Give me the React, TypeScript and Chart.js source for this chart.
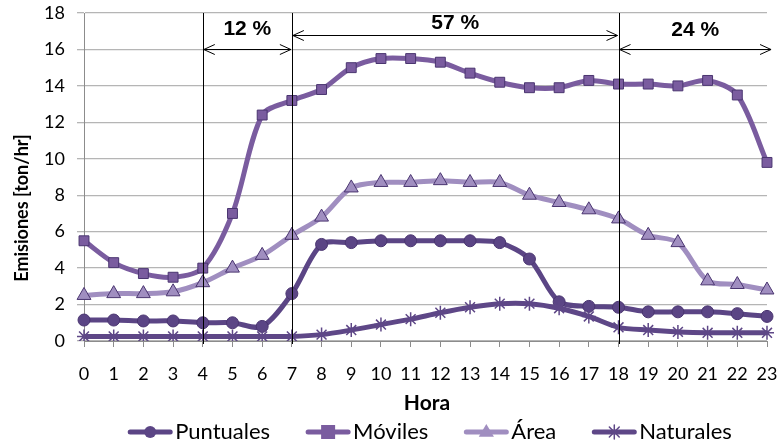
import React, { useEffect, useRef } from "react";
import { Chart, registerables } from "chart.js";

Chart.register(...registerables);

const hours = ["0","1","2","3","4","5","6","7","8","9","10","11","12","13","14","15","16","17","18","19","20","21","22","23"];
const puntuales = [1.15, 1.15, 1.1, 1.1, 1.0, 1.0, 0.8, 2.6, 5.3, 5.4, 5.5, 5.5, 5.5, 5.5, 5.4, 4.5, 2.15, 1.9, 1.85, 1.6, 1.6, 1.6, 1.5, 1.35];
const moviles = [5.5, 4.3, 3.7, 3.5, 4.0, 7.0, 12.4, 13.2, 13.8, 15.0, 15.5, 15.5, 15.3, 14.7, 14.2, 13.9, 13.9, 14.3, 14.1, 14.1, 14.0, 14.3, 13.5, 9.8];
const area = [2.5, 2.6, 2.6, 2.7, 3.2, 4.0, 4.7, 5.8, 6.8, 8.4, 8.7, 8.7, 8.8, 8.7, 8.7, 8.0, 7.6, 7.2, 6.7, 5.8, 5.4, 3.3, 3.1, 2.8];
const naturales = [0.25, 0.25, 0.25, 0.25, 0.25, 0.25, 0.25, 0.25, 0.35, 0.6, 0.9, 1.2, 1.55, 1.85, 2.05, 2.05, 1.8, 1.35, 0.75, 0.6, 0.5, 0.45, 0.45, 0.45];
const yTicks = [0, 2, 4, 6, 8, 10, 12, 14, 16, 18];

const seriesNames = ["Puntuales", "Móviles", "Área", "Naturales"];
const seriesColors = ["#5b4585", "#7a5c9f", "#a08ec0", "#5e4787"];
const seriesMarkers = ["circle", "rect", "triangle", "star"];
const markerRadius = [6, 7, 8, 7];

const periodBounds = [4, 7, 18];
const periodLabels = ["12 %", "57 %", "24 %"];
const periodFrom = [4, 7, 18];
const periodTo = [7, 18, 23.17];
const periodArrowY = [16, 16.8, 16];
const periodLabelY = [17.1, 17.45, 17.05];

const LEGEND_FONT = "22px Lato";

function drawMarker(ctx: CanvasRenderingContext2D, kind: string, x: number, y: number, r: number, color: string) {
  ctx.save();
  ctx.fillStyle = color;
  ctx.strokeStyle = color;
  ctx.beginPath();
  if (kind === "circle") {
    ctx.arc(x, y, r, 0, Math.PI * 2);
    ctx.fill();
  } else if (kind === "rect") {
    ctx.fillRect(x - r, y - r, r * 2, r * 2);
  } else if (kind === "triangle") {
    ctx.moveTo(x, y - r);
    ctx.lineTo(x + r * 0.95, y + r * 0.6);
    ctx.lineTo(x - r * 0.95, y + r * 0.6);
    ctx.closePath();
    ctx.fill();
  } else {
    ctx.lineWidth = 1.5;
    for (let i = 0; i < 4; i++) {
      const a = (i * Math.PI) / 4;
      ctx.moveTo(x - Math.cos(a) * r, y - Math.sin(a) * r);
      ctx.lineTo(x + Math.cos(a) * r, y + Math.sin(a) * r);
    }
    ctx.stroke();
  }
  ctx.restore();
}

const overlayPlugin = {
  id: "overlay",
  afterDatasetsDraw(chart: any) {
    const ctx: CanvasRenderingContext2D = chart.ctx;
    const xs = chart.scales.x;
    const ys = chart.scales.y;
    const area = chart.chartArea;
    const xPix = (v: number) => xs.getPixelForValue(0) + (xs.getPixelForValue(1) - xs.getPixelForValue(0)) * v;
    ctx.save();
    ctx.strokeStyle = "#000";
    ctx.lineWidth = 1;
    periodBounds.forEach((b) => {
      const px = Math.round(xPix(b)) + 0.5;
      ctx.beginPath();
      ctx.moveTo(px, area.top);
      ctx.lineTo(px, area.bottom + 3);
      ctx.stroke();
    });
    periodLabels.forEach((lab, i) => {
      const x1 = xPix(periodFrom[i]) + 1;
      const x2 = xPix(periodTo[i]) - 1;
      const y = Math.round(ys.getPixelForValue(periodArrowY[i])) + 0.5;
      ctx.beginPath();
      ctx.moveTo(x1, y);
      ctx.lineTo(x2, y);
      ctx.moveTo(x1 + 11, y - 5);
      ctx.lineTo(x1, y);
      ctx.lineTo(x1 + 11, y + 5);
      ctx.moveTo(x2 - 11, y - 5);
      ctx.lineTo(x2, y);
      ctx.lineTo(x2 - 11, y + 5);
      ctx.stroke();
      ctx.fillStyle = "#000";
      ctx.font = "bold 21px 'Liberation Sans'";
      ctx.textAlign = "center";
      ctx.textBaseline = "middle";
      ctx.fillText(lab, (x1 + x2) / 2, ys.getPixelForValue(periodLabelY[i]));
    });
    ctx.restore();
  },
  afterDraw(chart: any) {
    const ctx: CanvasRenderingContext2D = chart.ctx;
    ctx.save();
    ctx.fillStyle = "#000";
    ctx.font = "bold 21px Lato";
    ctx.textAlign = "center";
    ctx.textBaseline = "middle";
    ctx.fillText("Hora", 427, 403);
    ctx.font = "bold 18px Lato";
    ctx.translate(22, 208);
    ctx.rotate(-Math.PI / 2);
    ctx.fillText("Emisiones [ton/hr]", 0, 0);
    ctx.restore();

    // legend
    ctx.save();
    ctx.font = LEGEND_FONT;
    const lineLen = 44;
    const gapText = 3;
    const gapItem = 36;
    const widths = seriesNames.map((n) => ctx.measureText(n).width);
    const total = widths.reduce((a, w) => a + lineLen + gapText + w, 0) + gapItem * (seriesNames.length - 1);
    let x = 430 - total / 2;
    const y = 432;
    seriesNames.forEach((n, i) => {
      ctx.strokeStyle = seriesColors[i];
      ctx.lineWidth = 5;
      ctx.lineCap = "round";
      ctx.beginPath();
      ctx.moveTo(x + 2, y);
      ctx.lineTo(x + lineLen - 2, y);
      ctx.stroke();
      drawMarker(ctx, seriesMarkers[i], x + lineLen / 2, y, markerRadius[i], seriesColors[i]);
      ctx.fillStyle = "#000";
      ctx.textAlign = "left";
      ctx.textBaseline = "middle";
      ctx.fillText(n, x + lineLen + gapText, y);
      x += lineLen + gapText + widths[i] + gapItem;
    });
    ctx.restore();
  },
};

export default function App() {
  const ref = useRef<HTMLCanvasElement>(null);
  useEffect(() => {
    if (!ref.current) return;
    const data = [puntuales, moviles, area, naturales];
    const chart = new Chart(ref.current, {
      type: "line",
      data: {
        labels: hours,
        datasets: data.map((d, i) => ({
          label: seriesNames[i],
          data: d,
          borderColor: seriesColors[i],
          backgroundColor: seriesColors[i],
          borderWidth: 5,
          tension: 0.3,
          pointStyle: seriesMarkers[i] as any,
          pointRadius: markerRadius[i],
          pointBorderWidth: seriesMarkers[i] === "star" ? 1.5 : 1,
          pointBorderColor: seriesMarkers[i] === "star" ? seriesColors[i] : "#4a3570",
          pointBackgroundColor: seriesColors[i],
          fill: false,
          order: 4 - i,
        })),
      },
      options: {
        responsive: false,
        animation: false,
        events: [],
        layout: { padding: { left: 0, right: 14, top: 13, bottom: 0 } },
        plugins: { legend: { display: false }, tooltip: { enabled: false } },
        scales: {
          x: {
            type: "category",
            offset: false,
            grid: { display: true, drawOnChartArea: false, drawTicks: true, tickLength: 6, color: "#8c8c8c" },
            border: { display: true, color: "#8c8c8c" },
            ticks: { color: "#000", font: { family: "Lato", size: 18 }, padding: 16, maxRotation: 0, autoSkip: false },
            afterFit: (s: any) => { s.height = 103; s.paddingLeft = 0; s.paddingRight = 0; },
          },
          y: {
            min: 0,
            max: 18,
            afterBuildTicks: (s: any) => { s.ticks = yTicks.map((v) => ({ value: v })); },
            grid: { color: "#b5b5b5", lineWidth: 1.3, tickLength: 7, drawTicks: true },
            border: { display: true, color: "#8c8c8c" },
            ticks: { color: "#000", font: { family: "Lato", size: 18 }, padding: 12 },
            afterFit: (s: any) => { s.width = 84; s.paddingTop = 0; s.paddingBottom = 0; },
          },
        },
      },
      plugins: [overlayPlugin],
    });
    return () => chart.destroy();
  }, []);
  return (
    <div style={{ position: "fixed", left: 0, top: 0, width: 781, height: 444, background: "#fff" }}>
      <canvas ref={ref} width={781} height={444} style={{ display: "block" }} />
    </div>
  );
}
